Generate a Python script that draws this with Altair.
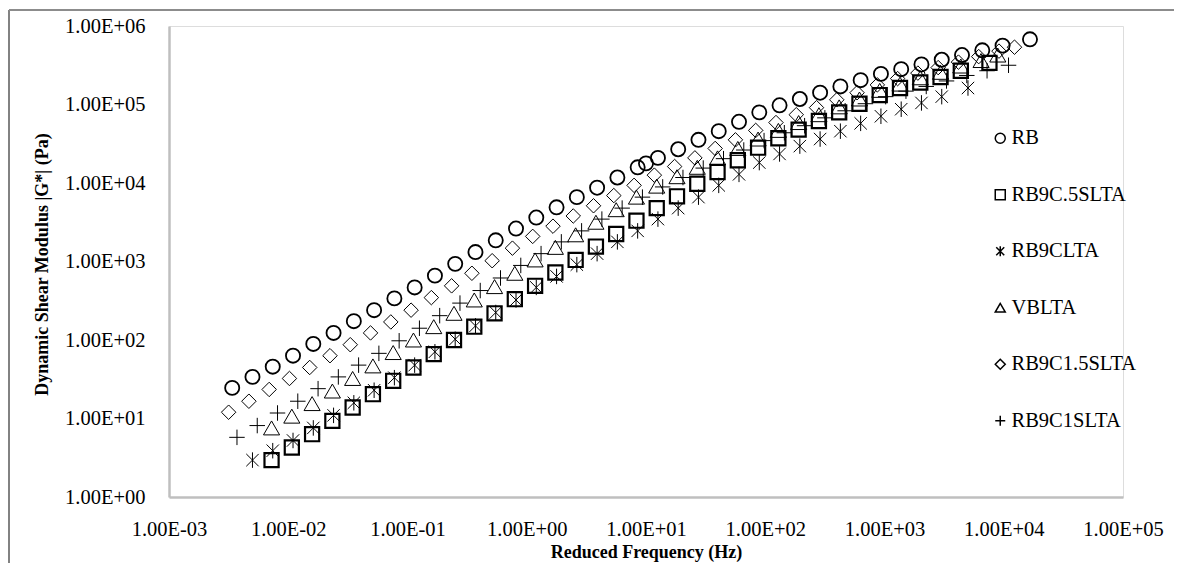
import altair as alt
import pandas as pd

# Values (log10 of frequency in Hz, log10 of |G*| in Pa)
series_names = ["RB", "RB9C.5SLTA", "RB9CLTA", "VBLTA", "RB9C1.5SLTA", "RB9C1SLTA"]

rb_logf = [-2.47, -2.30, -2.13, -1.96, -1.79, -1.62, -1.45, -1.28, -1.11, -0.94, -0.77, -0.60, -0.43, -0.26,
           -0.09, 0.08, 0.25, 0.42, 0.59, 0.76, 0.93, 1.00, 1.10, 1.27, 1.44, 1.61, 1.78, 1.95, 2.12, 2.29,
           2.46, 2.63, 2.80, 2.97, 3.14, 3.31, 3.48, 3.65, 3.82, 3.99, 4.22]
rb_logg = [1.39, 1.53, 1.66, 1.80, 1.95, 2.09, 2.24, 2.38, 2.53, 2.67, 2.82, 2.97, 3.12, 3.27,
           3.42, 3.56, 3.69, 3.82, 3.94, 4.07, 4.20, 4.25, 4.32, 4.43, 4.55, 4.66, 4.78, 4.90, 4.99, 5.07,
           5.15, 5.23, 5.31, 5.39, 5.45, 5.51, 5.57, 5.63, 5.69, 5.75, 5.83]

sq_logf = [-2.14, -1.97, -1.80, -1.63, -1.46, -1.29, -1.12, -0.95, -0.78, -0.61, -0.44, -0.27, -0.10, 0.07,
           0.24, 0.41, 0.58, 0.75, 0.92, 1.09, 1.26, 1.43, 1.60, 1.77, 1.94, 2.11, 2.28, 2.45, 2.62, 2.79,
           2.96, 3.13, 3.30, 3.47, 3.64, 3.88]
sq_logg = [0.47, 0.63, 0.80, 0.97, 1.14, 1.31, 1.48, 1.65, 1.82, 2.00, 2.17, 2.34, 2.52, 2.69,
           2.86, 3.02, 3.19, 3.35, 3.52, 3.68, 3.83, 3.99, 4.14, 4.29, 4.45, 4.57, 4.68, 4.79, 4.90, 5.01,
           5.12, 5.21, 5.28, 5.35, 5.43, 5.53]

ast_logf = [-2.30, -2.13, -1.96, -1.79, -1.62, -1.45, -1.28, -1.11, -0.94, -0.77, -0.60, -0.43, -0.26, -0.09,
            0.08, 0.25, 0.42, 0.59, 0.76, 0.93, 1.10, 1.27, 1.44, 1.61, 1.78, 1.95, 2.12, 2.29, 2.46, 2.63,
            2.80, 2.97, 3.14, 3.31, 3.48, 3.70]
ast_logg = [0.47, 0.59, 0.72, 0.88, 1.04, 1.20, 1.36, 1.52, 1.68, 1.85, 2.01, 2.18, 2.35, 2.51,
            2.67, 2.81, 2.96, 3.10, 3.25, 3.39, 3.54, 3.68, 3.82, 3.97, 4.11, 4.26, 4.37, 4.47, 4.56, 4.66,
            4.76, 4.85, 4.94, 5.02, 5.10, 5.21]

tri_logf = [-2.14, -1.97, -1.80, -1.63, -1.46, -1.29, -1.12, -0.95, -0.78, -0.61, -0.44, -0.27, -0.10, 0.07,
            0.24, 0.41, 0.58, 0.75, 0.92, 1.09, 1.26, 1.43, 1.60, 1.77, 1.94, 2.11, 2.28, 2.45, 2.62, 2.79,
            2.96, 3.13, 3.30, 3.47, 3.64, 3.81, 3.95]
tri_logg = [0.88, 1.03, 1.19, 1.35, 1.51, 1.67, 1.84, 2.00, 2.17, 2.34, 2.51, 2.68, 2.85, 3.02,
            3.18, 3.34, 3.50, 3.66, 3.82, 3.96, 4.08, 4.20, 4.32, 4.44, 4.56, 4.67, 4.77, 4.87, 4.97, 5.07,
            5.18, 5.26, 5.34, 5.41, 5.49, 5.56, 5.63]

dia_logf = [-2.50, -2.33, -2.16, -1.99, -1.82, -1.65, -1.48, -1.31, -1.14, -0.97, -0.80, -0.63, -0.46, -0.29,
            -0.12, 0.05, 0.22, 0.39, 0.56, 0.73, 0.90, 1.07, 1.24, 1.41, 1.58, 1.75, 1.92, 2.09, 2.26, 2.43,
            2.60, 2.77, 2.94, 3.11, 3.28, 3.45, 3.62, 3.79, 3.96, 4.09]
dia_logg = [1.08, 1.22, 1.37, 1.51, 1.65, 1.80, 1.94, 2.09, 2.23, 2.38, 2.54, 2.69, 2.85, 3.01,
            3.17, 3.32, 3.45, 3.58, 3.71, 3.84, 3.97, 4.10, 4.21, 4.32, 4.44, 4.55, 4.67, 4.77, 4.87, 4.96,
            5.06, 5.15, 5.25, 5.33, 5.40, 5.47, 5.54, 5.61, 5.68, 5.73]

plus_logf = [-2.43, -2.26, -2.09, -1.92, -1.75, -1.58, -1.41, -1.24, -1.07, -0.90, -0.73, -0.56, -0.39, -0.22,
             -0.05, 0.12, 0.29, 0.46, 0.63, 0.80, 0.97, 1.14, 1.31, 1.48, 1.65, 1.82, 1.99, 2.16, 2.33, 2.50,
             2.67, 2.84, 3.01, 3.18, 3.35, 3.52, 3.69, 3.86, 4.04]
plus_logg = [0.76, 0.91, 1.07, 1.22, 1.38, 1.53, 1.68, 1.83, 1.99, 2.15, 2.31, 2.47, 2.63, 2.79,
             2.95, 3.10, 3.25, 3.39, 3.54, 3.68, 3.82, 3.95, 4.07, 4.19, 4.31, 4.42, 4.54, 4.64, 4.73, 4.83,
             4.92, 5.01, 5.10, 5.17, 5.23, 5.30, 5.37, 5.43, 5.50]

x_ticks = [1e-3, 1e-2, 1e-1, 1e0, 1e1, 1e2, 1e3, 1e4, 1e5]
y_ticks = [1e0, 1e1, 1e2, 1e3, 1e4, 1e5, 1e6]

PLUS = "M-1,0L1,0M0,-1L0,1"
STAR = "M0,-1L0,1M-0.8,-0.8L0.8,0.8M-0.8,0.8L0.8,-0.8"
shapes = ["circle", "square", STAR, "triangle-up", "diamond", PLUS]
widths = [1.8, 2.2, 1.0, 1.0, 1.0, 1.0]
sizes = [200, 200, 240, 260, 210, 240]

all_series = [
    ("RB", rb_logf, rb_logg),
    ("RB9C.5SLTA", sq_logf, sq_logg),
    ("RB9CLTA", ast_logf, ast_logg),
    ("VBLTA", tri_logf, tri_logg),
    ("RB9C1.5SLTA", dia_logf, dia_logg),
    ("RB9C1SLTA", plus_logf, plus_logg),
]
rows = []
for k, (name, lf, lg) in enumerate(all_series):
    for a, b in zip(lf, lg):
        rows.append({"series": name, "idx": k, "sz": sizes[k], "sw": widths[k],
                     "freq": 10 ** a, "G": 10 ** b})
df = pd.DataFrame(rows)

FONT = "Liberation Serif"
LBL = 20.5
TTL = 18
label_expr = "replace(upper(format(datum.value, '.2e')), /E([+-])(\\d)$/, 'E$10$2')"

points = alt.Chart(df).mark_point(filled=False, color="black", opacity=1).encode(
    x=alt.X("freq:Q", scale=alt.Scale(type="log", domain=[1e-3, 1e5]),
            axis=alt.Axis(values=x_ticks, labelExpr=label_expr,
                          title="Reduced Frequency (Hz)", grid=False, ticks=False,
                          domainColor="#BFBFBF", domainWidth=2.5,
                          labelFont=FONT, labelFontSize=LBL, labelColor="black", labelPadding=22,
                          titleFont=FONT, titleFontSize=TTL, titleFontWeight="bold", titleColor="black",
                          titleY=55, titleBaseline="middle", labelFlush=False, labelOverlap=False)),
    y=alt.Y("G:Q", scale=alt.Scale(type="log", domain=[1e0, 1e6]),
            axis=alt.Axis(values=y_ticks, labelExpr=label_expr,
                          title="Dynamic Shear Modulus |G*| (Pa)", grid=False, ticks=False,
                          domainColor="#BFBFBF", domainWidth=2.5,
                          labelFont=FONT, labelFontSize=LBL, labelColor="black", labelPadding=24,
                          titleFont=FONT, titleFontSize=TTL, titleFontWeight="bold", titleColor="black",
                          titleX=-127, titleY=238, titleAngle=-90, titleAlign="center", titleBaseline="middle",
                          labelFlush=False, labelOverlap=False)),
    shape=alt.Shape("series:N", scale=alt.Scale(domain=series_names, range=shapes),
                    legend=alt.Legend(title=None, orient="none", legendX=821, legendY=102,
                                      labelFont=FONT, labelFontSize=LBL, labelColor="black",
                                      symbolSize=100, symbolStrokeColor="black", symbolStrokeWidth=1.5,
                                      symbolFillColor="transparent", rowPadding=35.5, labelOffset=1)),
    strokeWidth=alt.StrokeWidth("sw:Q", scale=None),
    size=alt.Size("sz:Q", scale=None),
    order=alt.Order("idx:Q"),
)

border = alt.Chart(pd.DataFrame({"a": [0]})).mark_rule(color="#595959", strokeWidth=1.5).encode(
    x=alt.value(-160), y=alt.value(-16), y2=alt.value(560)
)
border_top = alt.Chart(pd.DataFrame({"a": [0]})).mark_rule(color="#8C8C8C", strokeWidth=2).encode(
    x=alt.value(-160), x2=alt.value(1010), y=alt.value(-16)
)

chart = alt.layer(points, border, border_top).properties(
    width=954, height=471,
    padding={"left": 161, "top": 18, "right": 51, "bottom": 66},
    autosize=alt.AutoSizeParams(type="none"),
).configure_view(stroke=None).configure(background="white")

chart.save("out.html", embed_options={"renderer": "svg", "actions": False})
